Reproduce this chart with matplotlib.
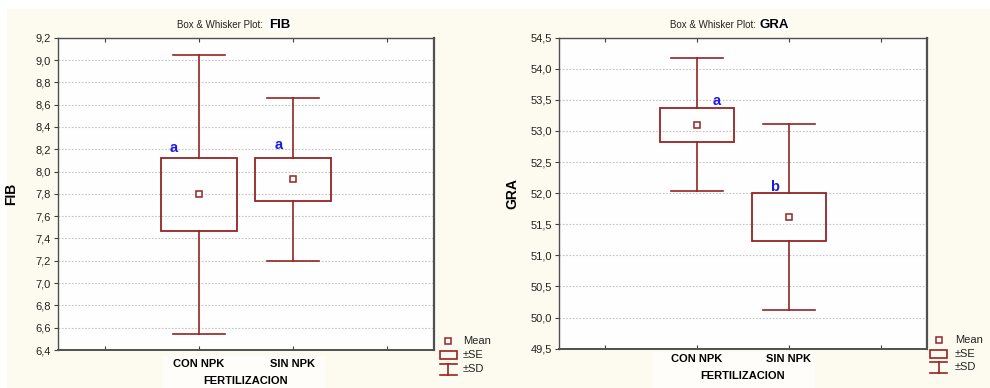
import numpy as np
import matplotlib
matplotlib.use("Agg")
import matplotlib.pyplot as plt
from matplotlib.patches import Rectangle
from matplotlib.lines import Line2D
from matplotlib.ticker import FuncFormatter, MultipleLocator

# ---------------- data ----------------
categories = ["CON NPK", "SIN NPK"]
x_title = "FERTILIZACION"

fib_mean = [7.795, 7.93]
fib_se = [0.325, 0.19]
fib_sd = [1.25, 0.73]
fib_letters = ["a", "a"]

gra_mean = [53.10, 51.615]
gra_se = [0.277, 0.385]
gra_sd = [1.07, 1.495]
gra_letters = ["a", "b"]

legend_labels = ["Mean", "\u00b1SE", "\u00b1SD"]

# ---------------- style / layout ----------------
W, H = 990, 388
FONT = "Liberation Sans"
plt.rcParams["font.family"] = [FONT, "DejaVu Sans"]
RED = "#952424"
BLUE = "#1a1ae6"
CREAM = "#fdfbef"

fig = plt.figure(figsize=(W / 100, H / 100), dpi=100)
fig.patch.set_facecolor("white")


def fx(x):
    return x / W


def fy(y):
    return 1 - y / H


fig.add_artist(Rectangle((fx(7), 0), 1 - fx(7), fy(9), transform=fig.transFigure,
                         facecolor=CREAM, edgecolor="none", zorder=-5))

panels = [
    dict(name="FIB", mean=fib_mean, se=fib_se, sd=fib_sd, letters=fib_letters,
         box=(58, 37.7, 434, 350), ylim=(6.4, 9.2), ystep=0.2,
         title_end=263, title_start=269, ylab_x=-0.106, tick_pad=6.5,
         xlab_y=381, letter_dx=[-25, -14], letter_dy=[6, 9.4],
         leg_x=448, leg_text_x=463, leg_y=[341, 355, 369],
         white=(163, 356, 325, 388)),
    dict(name="GRA", mean=gra_mean, se=gra_se, sd=gra_sd, letters=gra_letters,
         box=(559, 37.7, 927, 348.7), ylim=(49.5, 54.5), ystep=0.5,
         title_end=756, title_start=760, ylab_x=-0.109, tick_pad=3.5,
         xlab_y=376, letter_dx=[20, -14], letter_dy=[2.7, 2.3],
         leg_x=938.5, leg_text_x=955, leg_y=[340, 354, 367],
         white=(653, 352, 815, 388)),
]

box_w = 0.8
cap_w = 0.56

for p in panels:
    l, t, r, b = p["box"]
    wx0, wy0, wx1, wy1 = p["white"]
    fig.add_artist(Rectangle((fx(wx0), fy(wy1)), fx(wx1) - fx(wx0), fy(wy0) - fy(wy1),
                             transform=fig.transFigure, facecolor="#fefdf9",
                             edgecolor="none", zorder=-4))
    ax = fig.add_axes([fx(l), fy(b), fx(r) - fx(l), fy(t) - fy(b)])
    ax.set_facecolor("#fefefe")
    n = len(categories)
    xs = np.arange(n) + 1.5
    mean = np.array(p["mean"])
    se = np.array(p["se"])
    sd = np.array(p["sd"])

    for i, x in enumerate(xs):
        # whiskers (±SD)
        ax.plot([x, x], [mean[i] + se[i], mean[i] + sd[i]], color=RED, lw=1.2, zorder=3)
        ax.plot([x, x], [mean[i] - sd[i], mean[i] - se[i]], color=RED, lw=1.2, zorder=3)
        ax.plot([x - cap_w / 2, x + cap_w / 2], [mean[i] + sd[i]] * 2, color=RED, lw=1.2, zorder=3)
        ax.plot([x - cap_w / 2, x + cap_w / 2], [mean[i] - sd[i]] * 2, color=RED, lw=1.2, zorder=3)
        # box (±SE)
        ax.add_patch(Rectangle((x - box_w / 2, mean[i] - se[i]), box_w, 2 * se[i],
                               facecolor="none", edgecolor=RED, lw=1.3, zorder=3))
        # mean
        ax.plot([x], [mean[i]], marker="s", ms=4, mfc="white", mec=RED, mew=1.1,
                linestyle="none", zorder=4)
        # letters
        ax.annotate(p["letters"][i], xy=(x, mean[i] + se[i]),
                    xytext=(p["letter_dx"][i] * 0.72, p["letter_dy"][i] * 0.72),
                    textcoords="offset points", ha="center", va="baseline",
                    color=BLUE, fontsize=10.5, fontweight="bold", zorder=5)

    ax.set_xlim(0, 4)
    ax.set_ylim(*p["ylim"])
    ax.yaxis.set_major_locator(MultipleLocator(p["ystep"]))
    ax.yaxis.set_major_formatter(FuncFormatter(lambda v, pos: f"{v:.1f}".replace(".", ",")))
    ax.set_xticks([0.5, 1.5, 2.5, 3.5])
    ax.set_xticklabels([""] + categories + [""], fontweight="bold", fontsize=8)
    ax.tick_params(axis="x", direction="in", length=3, top=True, bottom=True,
                   pad=p["tick_pad"], color="#404040")
    ax.tick_params(axis="y", direction="out", length=3, labelsize=8,
                   color="#404040", labelcolor="#222222", pad=2)
    ax.grid(axis="y", linestyle=(0, (1.5, 1.5)), color="#c4c4c4", lw=0.8, zorder=1)
    ax.set_axisbelow(True)
    for s in ax.spines.values():
        s.set_color("#505050")
        s.set_linewidth(1.0)
    ax.spines["right"].set_linewidth(1.6)
    ax.spines["bottom"].set_linewidth(1.4)

    ax.set_ylabel(p["name"], fontsize=10, fontweight="bold")
    ax.yaxis.set_label_coords(p["ylab_x"], 0.5)

    # title
    fig.text(fx(p["title_end"]), fy(27.5), "Box & Whisker Plot:", ha="right",
             va="baseline", fontsize=7, color="#222222")
    fig.text(fx(p["title_start"]), fy(27.5), p["name"], ha="left", va="baseline",
             fontsize=9.5, fontweight="bold",
             bbox=dict(facecolor="white", edgecolor="none", pad=0.5))
    # x title
    fig.text(fx((l + r) / 2), fy(p["xlab_y"]), x_title, ha="center", va="center",
             fontsize=8, fontweight="bold")

    # legend (manual, Statistica style)
    lx = p["leg_x"]
    ly = p["leg_y"]
    fig.add_artist(Line2D([fx(lx)], [fy(ly[0])], marker="s", ms=4, mfc="white",
                          mec=RED, mew=1.1, linestyle="none", transform=fig.transFigure))
    fig.add_artist(Rectangle((fx(lx - 8.5), fy(ly[1] + 4.2)), fx(17), fy(0) - fy(8.4),
                             transform=fig.transFigure, facecolor="none",
                             edgecolor=RED, lw=1.2))
    top_y, bot_y = ly[2] - 5.5, ly[2] + 5.5
    for xx0, xx1, yy0, yy1 in [(lx - 8.5, lx + 8.5, top_y, top_y),
                               (lx - 8.5, lx + 8.5, bot_y, bot_y),
                               (lx, lx, top_y, bot_y)]:
        fig.add_artist(Line2D([fx(xx0), fx(xx1)], [fy(yy0), fy(yy1)], color=RED,
                              lw=1.2, transform=fig.transFigure))
    for lab, yy in zip(legend_labels, ly):
        fig.text(fx(p["leg_text_x"]), fy(yy), lab, ha="left", va="center",
                 fontsize=8, color="#222222")

fig.savefig("out.png", dpi=100, facecolor=fig.get_facecolor())
